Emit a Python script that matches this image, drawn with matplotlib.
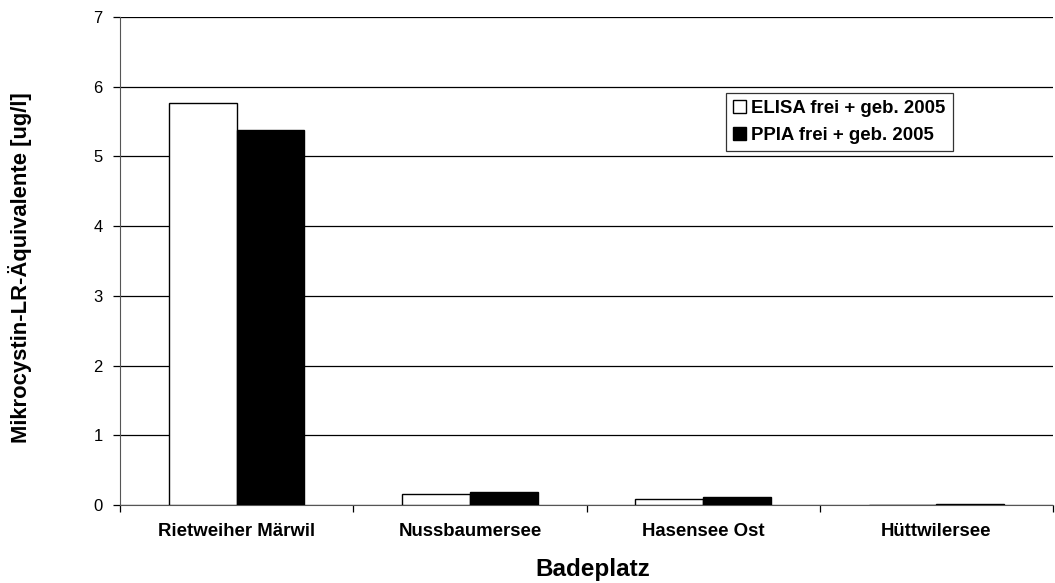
import matplotlib
matplotlib.use("Agg")
import matplotlib.pyplot as plt
import numpy as np

plt.rcParams['font.family'] = ['Liberation Sans', 'DejaVu Sans']

categories = ["Rietweiher Märwil", "Nussbaumersee", "Hasensee Ost", "Hüttwilersee"]
elisa = [5.76, 0.16, 0.09, 0.0]
ppia = [5.38, 0.18, 0.11, 0.02]
series_names = ["ELISA frei + geb. 2005", "PPIA frei + geb. 2005"]
y_ticks = [0, 1, 2, 3, 4, 5, 6, 7]

fig = plt.figure(figsize=(10.55, 5.83), dpi=100)
ax = fig.add_axes([120 / 1055, 1 - 505 / 583, 933 / 1055, 488 / 583])

x = np.arange(len(categories))
w = 0.29
ax.bar(x - w / 2, elisa, w, color="white", edgecolor="black", linewidth=1.0,
       label=series_names[0], zorder=3)
ax.bar(x + w / 2, ppia, w, color="black", edgecolor="black", linewidth=1.0,
       label=series_names[1], zorder=3)

ax.set_xlim(-0.5, len(categories) - 0.5)
ax.set_ylim(0, 7)
ax.set_yticks(y_ticks)
ax.yaxis.grid(True, color="black", linewidth=0.9)
ax.set_axisbelow(True)
ax.tick_params(axis="y", direction="out", length=5, labelsize=12, width=0.9, pad=7.5)

# category labels centred, tick marks at the boundaries
ax.set_xticks(np.arange(-0.5, len(categories), 1.0))
ax.set_xticklabels([""] * (len(categories) + 1))
ax.set_xticks(x, minor=True)
ax.set_xticklabels(categories, minor=True, fontsize=13.4, fontweight="bold")
ax.tick_params(axis="x", which="major", direction="out", length=5, width=0.9)
ax.tick_params(axis="x", which="minor", length=0, pad=13)

for side in ("top", "right"):
    ax.spines[side].set_visible(False)
ax.spines["left"].set_color("#555555")
ax.spines["bottom"].set_color("#555555")

ax.set_xlabel("Badeplatz", fontsize=17.5, fontweight="bold")
ax.xaxis.set_label_coords(0.507, -0.108)
ax.set_ylabel("Mikrocystin-LR-Äquivalente [ug/l]", fontsize=15.8, fontweight="bold")
ax.yaxis.set_label_coords(-0.094, 0.486)

leg = ax.legend(loc="upper left", bbox_to_anchor=(606 / 933, 1 - 76 / 488),
                frameon=True, fancybox=False, edgecolor="black",
                prop={"weight": "bold", "size": 13.4},
                handlelength=0.7, handleheight=0.7, handletextpad=0.25,
                borderpad=0.4, labelspacing=0.5, borderaxespad=0)
leg.get_frame().set_linewidth(0.9)

fig.savefig("out.png", dpi=100)
